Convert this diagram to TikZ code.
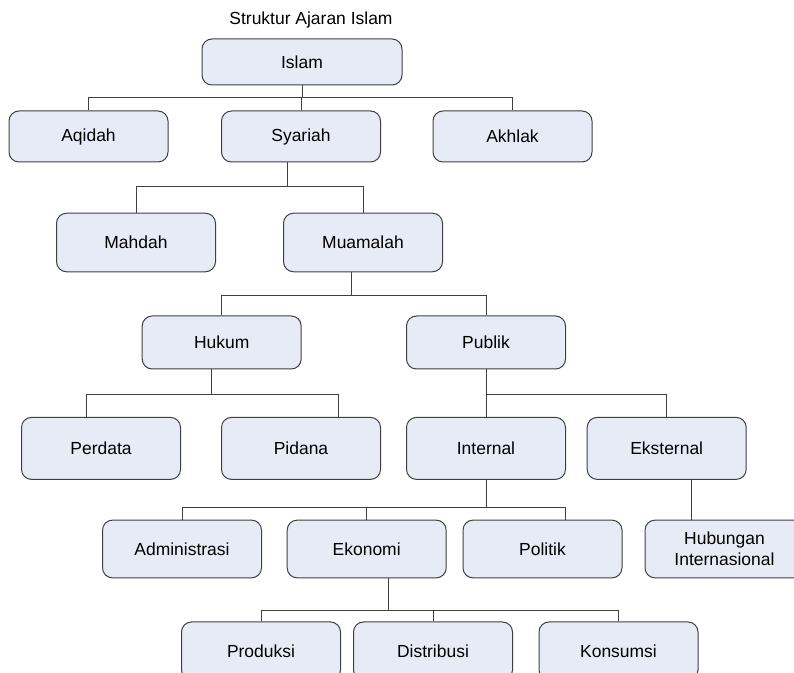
\documentclass[tikz,border=0pt]{standalone}
\usepackage{fontspec}
\setmainfont{Liberation Sans}
\usetikzlibrary{calc}
\definecolor{boxfill}{RGB}{230,235,246}
\definecolor{boxline}{RGB}{64,64,64}

\begin{document}
\begin{tikzpicture}[x=0.75pt,y=-0.75pt,
  unit/.style={draw=boxline, fill=boxfill, rounded corners=7.5pt, line width=0.75pt,
    minimum width=119.25pt, inner sep=0pt, align=center,
    font=\fontsize{13.1}{15.6}\selectfont},
  link/.style={draw=boxline, line width=0.75pt}]

\clip (0,0) rectangle (794,673);

% === Title ===
\node[font=\fontsize{13.1}{15.6}\selectfont] (title) at (311,20) {Struktur Ajaran Islam};

% === Boxes, row by row ===
\node[unit, minimum width=150pt, minimum height=34.5pt] (islam) at (302,62) {Islam};

\node[unit, minimum height=38.25pt] (aqidah)  at (88.5,136.5) {Aqidah};
\node[unit, minimum height=38.25pt] (syariah) at (301,136.5)  {Syariah};
\node[unit, minimum height=38.25pt] (akhlak)  at (512.5,136.5) {Akhlak};

\node[unit, minimum height=43.9pt] (mahdah)   at (136,242.5) {Mahdah};
\node[unit, minimum height=43.9pt] (muamalah) at (363,242.5) {Muamalah};

\node[unit, minimum height=39.75pt] (hukum)  at (221.7,342.5) {Hukum};
\node[unit, minimum height=39.75pt] (publik) at (486,342.5)   {Publik};

\node[unit, minimum height=46.5pt] (perdata)   at (101,448.4)   {Perdata};
\node[unit, minimum height=46.5pt] (pidana)    at (301,448.4)   {Pidana};
\node[unit, minimum height=46.5pt] (internal)  at (486,448.4)   {Internal};
\node[unit, minimum height=46.5pt] (eksternal) at (666.7,448.4) {Eksternal};

\node[unit, minimum height=43.3pt] (administrasi) at (182,549)   {Administrasi};
\node[unit, minimum height=43.3pt] (ekonomi)      at (366.7,549) {Ekonomi};
\node[unit, minimum height=43.3pt] (politik)      at (542.5,549) {Politik};
\node[unit, minimum height=43.3pt] (hubungan)     at (724.5,549) {Hubungan\\Internasional};

\node[unit, minimum height=43.5pt] (produksi)   at (261,651)   {Produksi};
\node[unit, minimum height=43.5pt] (distribusi) at (433,651)   {Distribusi};
\node[unit, minimum height=43.5pt] (konsumsi)   at (618.5,651) {Konsumsi};

% === Connectors ===
% Islam
\draw[link] (islam.south) -- ++(0,12) coordinate (b1);
\draw[link] (aqidah.north) |- (b1) -| (akhlak.north);
\draw[link] (syariah.north) -- (syariah.north |- b1);

% Syariah
\draw[link] ($(syariah.south)+(-14,0)$) -- ++(0,24) coordinate (b2);
\draw[link] (mahdah.north) |- (b2) -| (muamalah.north);

% Muamalah
\draw[link] ($(muamalah.south)+(-12,0)$) -- ++(0,23) coordinate (b3);
\draw[link] (hukum.north) |- (b3) -| (publik.north);

% Hukum
\draw[link] ($(hukum.south)+(-10,0)$) -- ++(0,25) coordinate (b4);
\draw[link] ($(perdata.north)+(-15,0)$) |- (b4) -| ($(pidana.north)+(37,0)$);

% Publik
\draw[link] (publik.south) -- ++(0,25) coordinate (b5) -| (eksternal.north);
\draw[link] (b5) -- (internal.north);

% Internal
\draw[link] (internal.south) -- ++(0,28) coordinate (b6);
\draw[link] (administrasi.north) |- (b6) -| ($(politik.north)+(23,0)$);
\draw[link] (ekonomi.north) -- (ekonomi.north |- b6);

% Eksternal
\draw[link] ($(eksternal.south)+(25,0)$) coordinate (e1) -- (e1 |- hubungan.north);

% Ekonomi
\draw[link] ($(ekonomi.south)+(21.5,0)$) -- ++(0,32) coordinate (b7);
\draw[link] (produksi.north) |- (b7) -| (konsumsi.north);
\draw[link] (distribusi.north) -- (distribusi.north |- b7);

\end{tikzpicture}
\end{document}
